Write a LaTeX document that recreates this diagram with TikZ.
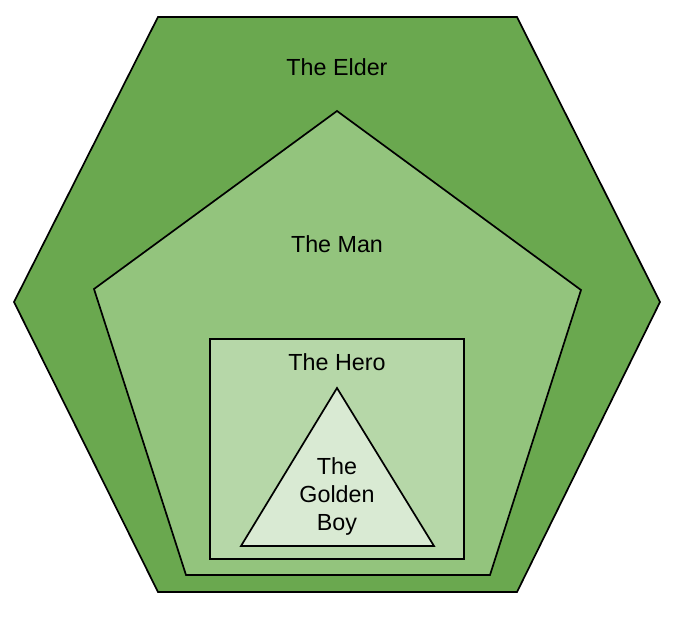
\documentclass[tikz,border=0pt]{standalone}
\usepackage{fontspec}
\setmainfont{Liberation Sans}
\definecolor{hexc}{HTML}{6AA84F}
\definecolor{penc}{HTML}{93C47D}
\definecolor{recc}{HTML}{B6D7A8}
\definecolor{tric}{HTML}{D9EAD3}
\begin{document}
\begin{tikzpicture}[x=1pt,y=-1pt,
  shapeline/.style={draw=black,line width=1.7pt,line join=miter},
  lbl/.style={font=\fontsize{23.3}{28}\selectfont,align=center,inner sep=0pt}]
\useasboundingbox (0,0) rectangle (680,618);
\fill[white] (0,0) rectangle (680,618);
\draw[shapeline,fill=hexc] (158,17) -- (517,17) -- (660,302) -- (517,592) -- (158,592) -- (14,302) -- cycle;
\draw[shapeline,fill=penc] (337,111) -- (581,290) -- (490,575) -- (186,575) -- (94,289) -- cycle;
\draw[shapeline,fill=recc] (210,339) rectangle (464,559);
\draw[shapeline,fill=tric] (337,388) -- (434,546) -- (241,546) -- cycle;
\node[lbl] (elder) at (337,67) {The Elder};
\node[lbl] (man) at (337,244) {The Man};
\node[lbl] (hero) at (337,362) {The Hero};
\node[lbl] (boy) at (337,496) {The\\Golden\\Boy};
\end{tikzpicture}
\end{document}
